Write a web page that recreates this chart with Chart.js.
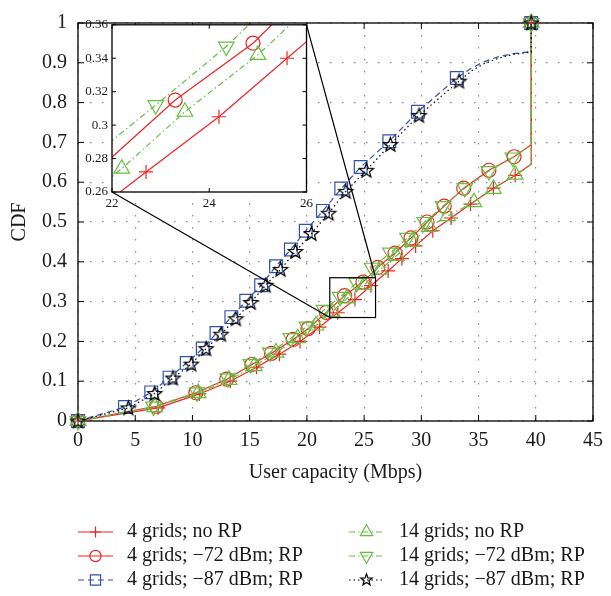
<!DOCTYPE html>
<html>
<head>
<meta charset="utf-8">
<script src="https://cdn.jsdelivr.net/npm/chart.js@4.4.1/dist/chart.umd.min.js"></script>
<style>
  html, body { margin: 0; padding: 0; background: #fff; }
  #wrap { position: relative; width: 611px; height: 596px; }
  #main { position: absolute; left: 0; top: 0; }
  #inset { position: absolute; left: 72px; top: 13px; }
</style>
</head>
<body>
<div id="wrap">
  <canvas id="main" width="611" height="596"></canvas>
  <canvas id="inset" width="245" height="200"></canvas>
</div>
<script>
// axis ticks
const xTicks = [0, 5, 10, 15, 20, 25, 30, 35, 40, 45];
const xTickLabels = ['0', '5', '10', '15', '20', '25', '30', '35', '40', '45'];
const yTicks = [0, 0.1, 0.2, 0.3, 0.4, 0.5, 0.6, 0.7, 0.8, 0.9, 1];
const yTickLabels = ['0', '0.1', '0.2', '0.3', '0.4', '0.5', '0.6', '0.7', '0.8', '0.9', '1'];
const insetXTicks = [22, 24, 26];
const insetXTickLabels = ['22', '24', '26'];
const insetYTicks = [0.26, 0.28, 0.30, 0.32, 0.34, 0.36];
const insetYTickLabels = ['0.26', '0.28', '0.3', '0.32', '0.34', '0.36'];

// zoom window of the inset (data units)
const zoomX = [22, 26];
const zoomY = [0.26, 0.36];

// 4 grids; no RP  (marked points, then the point before the jump)
const plusX = [0, 7.0, 10.6, 13.3, 15.6, 17.6, 19.4, 21.1, 22.7, 24.2, 25.6, 27.1, 28.3, 29.5, 31.0, 32.6, 34.3, 36.3, 38.2, 39.6];
const plusY = [0, 0.033, 0.068, 0.100, 0.135, 0.168, 0.200, 0.236, 0.272, 0.305, 0.340, 0.377, 0.408, 0.440, 0.478, 0.510, 0.545, 0.585, 0.617, 1];
const plusTailX = [39.6];
const plusTailY = [0.645];

// 4 grids; -72 dBm; RP
const circX = [0, 6.85, 10.3, 13.0, 15.2, 16.9, 18.8, 20.1, 21.7, 23.3, 24.9, 26.2, 27.7, 29.1, 30.5, 32.0, 33.7, 35.9, 38.1, 39.6];
const circY = [0, 0.037, 0.071, 0.105, 0.142, 0.170, 0.205, 0.232, 0.273, 0.315, 0.349, 0.386, 0.422, 0.460, 0.500, 0.540, 0.585, 0.630, 0.664, 1];
const circTailX = [39.6];
const circTailY = [0.694];

// 4 grids; -87 dBm; RP
const sqX = [0, 4.1, 6.4, 8.0, 9.5, 10.9, 12.1, 13.4, 14.7, 16.0, 17.3, 18.6, 19.9, 21.4, 23.0, 24.7, 27.2, 29.7, 33.1, 39.6];
const sqY = [0, 0.035, 0.072, 0.109, 0.146, 0.182, 0.221, 0.261, 0.302, 0.341, 0.389, 0.431, 0.478, 0.528, 0.584, 0.638, 0.703, 0.777, 0.862, 1];
const sqTailX = [34.3, 35.4, 36.7, 38.0, 39.6];
const sqTailY = [0.885, 0.902, 0.915, 0.923, 0.928];

// 14 grids; no RP
const upX = [0, 6.7, 10.5, 13.2, 15.4, 17.3, 19.2, 20.8, 22.2, 23.5, 25.0, 26.4, 27.8, 29.2, 30.7, 32.3, 34.6, 36.3, 38.2, 39.6];
const upY = [0, 0.035, 0.070, 0.103, 0.138, 0.172, 0.208, 0.240, 0.274, 0.308, 0.342, 0.380, 0.415, 0.450, 0.488, 0.515, 0.550, 0.583, 0.619, 1];
const upTailX = [39.6];
const upTailY = [0.645];

// 14 grids; -72 dBm; RP
const dnX = [0, 6.6, 10.4, 13.1, 15.1, 16.8, 18.6, 20.0, 21.5, 22.9, 24.35, 25.7, 27.3, 28.8, 30.3, 31.9, 33.8, 35.9, 38.0, 39.6];
const dnY = [0, 0.036, 0.072, 0.107, 0.143, 0.172, 0.208, 0.237, 0.279, 0.312, 0.347, 0.385, 0.423, 0.460, 0.500, 0.540, 0.585, 0.628, 0.662, 1];
const dnTailX = [39.6];
const dnTailY = [0.694];

// 14 grids; -87 dBm; RP
const starX = [0, 4.4, 6.7, 8.3, 9.9, 11.2, 12.5, 13.8, 15.1, 16.4, 17.7, 19.0, 20.4, 21.9, 23.4, 25.2, 27.3, 29.8, 33.3, 39.6];
const starY = [0, 0.033, 0.069, 0.108, 0.143, 0.182, 0.218, 0.257, 0.298, 0.341, 0.381, 0.426, 0.471, 0.522, 0.577, 0.630, 0.695, 0.768, 0.854, 1];
const starTailX = [34.4, 35.5, 36.8, 38.0, 39.6];
const starTailY = [0.880, 0.898, 0.912, 0.921, 0.927];

const FONT = '"Liberation Serif", "DejaVu Serif", serif';
const TEXT = '#1a1a1a';
const RED = '#f02424';
const GREEN = '#66bf42';
const BLUE = '#3152aa';
const BLACK = '#000000';

Chart.defaults.font.family = FONT;
Chart.defaults.color = TEXT;

// marked points + unmarked tail, last marked point (the top of the jump) at the end
function buildPoints(mx, my, tx, ty) {
    const pts = mx.map((x, i) => ({ x: x, y: my[i], mark: true }));
    const top = pts.pop();
    tx.forEach((x, i) => pts.push({ x: x, y: ty[i], mark: false }));
    pts.push(top);
    return pts;
}

function starPath(ctx, cx, cy, R) {
    const r = R * 0.42;
    ctx.beginPath();
    for (let k = 0; k < 10; k++) {
        const rr = k % 2 ? r : R;
        const a = -Math.PI / 2 + k * Math.PI / 5;
        ctx.lineTo(cx + rr * Math.cos(a), cy + rr * Math.sin(a));
    }
    ctx.closePath();
}

function makeStar(R) {
    const s = Math.ceil(2 * R + 4);
    const c = document.createElement('canvas');
    c.width = s;
    c.height = s;
    const g = c.getContext('2d');
    starPath(g, s / 2, s / 2 + 0.5, R);
    g.strokeStyle = BLACK;
    g.lineWidth = 1.2;
    g.stroke();
    return c;
}

const starImg = makeStar(7.5);

const seriesDefs = [
    { label: '4 grids; no RP', color: RED, marker: 'cross', r: 7, dash: [], order: 5,
      pts: buildPoints(plusX, plusY, plusTailX, plusTailY) },
    { label: '4 grids; \u221272 dBm; RP', color: RED, marker: 'circle', r: 7, dash: [], order: 4,
      pts: buildPoints(circX, circY, circTailX, circTailY) },
    { label: '4 grids; \u221287 dBm; RP', color: BLUE, marker: 'rect', r: 9, dash: [6, 4], order: 3,
      pts: buildPoints(sqX, sqY, sqTailX, sqTailY) },
    { label: '14 grids; no RP', color: GREEN, marker: 'triangle', r: 9, dash: [6, 3, 1.5, 3], order: 2,
      pts: buildPoints(upX, upY, upTailX, upTailY) },
    { label: '14 grids; \u221272 dBm; RP', color: GREEN, marker: 'triangle', rot: 180, r: 9, dash: [6, 3, 1.5, 3], order: 1,
      pts: buildPoints(dnX, dnY, dnTailX, dnTailY) },
    { label: '14 grids; \u221287 dBm; RP', color: BLACK, marker: 'star', r: 7.5, dash: [1.5, 3], order: 0,
      pts: buildPoints(starX, starY, starTailX, starTailY) }
];

function makeDatasets() {
    return seriesDefs.map(s => ({
        label: s.label,
        data: s.pts,
        order: s.order,
        borderColor: s.color,
        borderWidth: 1.2,
        borderDash: s.dash,
        fill: false,
        tension: 0,
        pointStyle: s.marker === 'star' ? starImg : s.marker,
        pointRotation: s.rot || 0,
        pointRadius: ctx => (ctx.raw && ctx.raw.mark ? s.r : 0),
        pointHoverRadius: 0,
        pointBorderColor: s.color,
        pointBackgroundColor: 'rgba(0,0,0,0)',
        pointBorderWidth: 1.2
    }));
}

// marker drawing for the legend
function drawMarker(ctx, s, x, y, r) {
    ctx.save();
    ctx.setLineDash([]);
    ctx.strokeStyle = s.color;
    ctx.lineWidth = 1.2;
    ctx.beginPath();
    if (s.marker === 'cross') {
        ctx.moveTo(x - r, y); ctx.lineTo(x + r, y);
        ctx.moveTo(x, y - r); ctx.lineTo(x, y + r);
    } else if (s.marker === 'circle') {
        ctx.arc(x, y, r, 0, Math.PI * 2);
    } else if (s.marker === 'rect') {
        const h = r * Math.SQRT1_2;
        ctx.rect(x - h, y - h, 2 * h, 2 * h);
    } else if (s.marker === 'triangle') {
        let a = (s.rot || 0) * Math.PI / 180;
        for (let k = 0; k < 3; k++) {
            ctx.lineTo(x + Math.sin(a) * r, y - Math.cos(a) * r);
            a += Math.PI * 2 / 3;
        }
        ctx.closePath();
    } else if (s.marker === 'star') {
        starPath(ctx, x, y, r);
    }
    ctx.stroke();
    ctx.restore();
}

function drawInwardTicks(ctx, chart, xs, ys, len) {
    const a = chart.chartArea;
    const sx = chart.scales.x, sy = chart.scales.y;
    ctx.beginPath();
    xs.forEach(v => {
        const p = sx.getPixelForValue(v);
        ctx.moveTo(p, a.bottom); ctx.lineTo(p, a.bottom - len);
        ctx.moveTo(p, a.top); ctx.lineTo(p, a.top + len);
    });
    ys.forEach(v => {
        const p = sy.getPixelForValue(v);
        ctx.moveTo(a.left, p); ctx.lineTo(a.left + len, p);
        ctx.moveTo(a.right, p); ctx.lineTo(a.right - len, p);
    });
    ctx.stroke();
}

// ---------- inset ----------
const insetCanvas = document.getElementById('inset');
const insetChart = new Chart(insetCanvas.getContext('2d'), {
    type: 'line',
    data: { datasets: makeDatasets() },
    options: {
        responsive: false,
        animation: false,
        events: [],
        layout: { padding: { left: 0, right: 10, top: 10, bottom: 0 } },
        plugins: { legend: { display: false }, tooltip: { enabled: false } },
        scales: {
            x: {
                type: 'linear', min: zoomX[0], max: zoomX[1],
                afterBuildTicks: s => { s.ticks = insetXTicks.map(v => ({ value: v })); },
                afterFit: s => { s.height = 21; },
                grid: { display: false, drawTicks: false },
                border: { display: false },
                ticks: { padding: 4, font: { size: 13 }, color: TEXT, maxRotation: 0,
                         callback: (v, i) => insetXTickLabels[i] }
            },
            y: {
                type: 'linear', min: zoomY[0], max: zoomY[1],
                afterBuildTicks: s => { s.ticks = insetYTicks.map(v => ({ value: v })); },
                afterFit: s => { s.width = 40; },
                grid: { display: false, drawTicks: false },
                border: { display: false },
                ticks: { padding: 4, font: { size: 13 }, color: TEXT,
                         callback: (v, i) => insetYTickLabels[i] }
            }
        }
    },
    plugins: [{
        id: 'insetFrame',
        beforeDraw(chart) {
            const a = chart.chartArea, ctx = chart.ctx;
            ctx.save();
            ctx.fillStyle = '#fff';
            ctx.fillRect(a.left, a.top, a.right - a.left, a.bottom - a.top);
            ctx.restore();
        },
        afterDraw(chart) {
            const a = chart.chartArea, ctx = chart.ctx;
            ctx.save();
            ctx.strokeStyle = '#000';
            ctx.lineWidth = 1.3;
            ctx.strokeRect(a.left, a.top, a.right - a.left, a.bottom - a.top);
            ctx.lineWidth = 1;
            drawInwardTicks(ctx, chart, insetXTicks, insetYTicks, 4);
            ctx.restore();
        }
    }]
});

// ---------- main chart ----------
const legendCols = [
    { x0: 78, x1: 113, tx: 127 },
    { x0: 349, x1: 384, tx: 399 }
];
const legendRowsY = [532, 556, 580];

const mainChart = new Chart(document.getElementById('main').getContext('2d'), {
    type: 'line',
    data: { datasets: makeDatasets() },
    options: {
        responsive: false,
        animation: false,
        events: [],
        clip: false,
        layout: { padding: { left: 0, right: 14, top: 12, bottom: 111 } },
        plugins: { legend: { display: false }, tooltip: { enabled: false } },
        scales: {
            x: {
                type: 'linear', min: 0, max: 45,
                afterBuildTicks: s => { s.ticks = xTicks.map(v => ({ value: v })); },
                afterFit: s => { s.height = 64; },
                grid: { color: '#8a8a8a', lineWidth: 1.2, drawTicks: false },
                border: { display: false, dash: [1.5, 10.5] },
                ticks: { padding: 8, font: { size: 20 }, color: TEXT, maxRotation: 0, autoSkip: false,
                         callback: (v, i) => xTickLabels[i] },
                title: { display: true, text: 'User capacity (Mbps)', font: { size: 20 }, color: TEXT,
                         padding: { top: 0, bottom: 0 } }
            },
            y: {
                type: 'linear', min: 0, max: 1,
                afterBuildTicks: s => { s.ticks = yTicks.map(v => ({ value: v })); },
                afterFit: s => { s.width = 78; },
                grid: { color: '#8a8a8a', lineWidth: 1.2, drawTicks: false },
                border: { display: false, dash: [1.5, 10.5] },
                ticks: { padding: 11, font: { size: 20 }, color: TEXT, autoSkip: false,
                         callback: (v, i) => yTickLabels[i] },
                title: { display: true, text: 'CDF', font: { size: 20 }, color: TEXT,
                         padding: { top: 8, bottom: 0 } }
            }
        }
    },
    plugins: [{
        id: 'mainDecor',
        beforeDatasetsDraw(chart) {
            const a = chart.chartArea, ctx = chart.ctx;
            ctx.save();
            ctx.strokeStyle = '#000';
            ctx.lineWidth = 1.3;
            ctx.strokeRect(a.left, a.top, a.right - a.left, a.bottom - a.top);
            ctx.lineWidth = 1;
            drawInwardTicks(ctx, chart, xTicks, yTicks, 6);
            ctx.restore();
        },
        afterDatasetsDraw(chart) {
            const ctx = chart.ctx;
            const sx = chart.scales.x, sy = chart.scales.y;
            const bx0 = sx.getPixelForValue(zoomX[0]), bx1 = sx.getPixelForValue(zoomX[1]);
            const by0 = sy.getPixelForValue(zoomY[0]), by1 = sy.getPixelForValue(zoomY[1]);
            const ia = insetChart.chartArea;
            const ox = insetCanvas.offsetLeft, oy = insetCanvas.offsetTop;
            ctx.save();
            ctx.strokeStyle = '#000';
            ctx.lineWidth = 1.2;
            ctx.strokeRect(bx0, by1, bx1 - bx0, by0 - by1);
            ctx.beginPath();
            ctx.moveTo(ox + ia.left, oy + ia.bottom); ctx.lineTo(bx0, by0);
            ctx.moveTo(ox + ia.right, oy + ia.top); ctx.lineTo(bx1, by1);
            ctx.stroke();
            ctx.restore();
        },
        afterDraw(chart) {
            const ctx = chart.ctx;
            ctx.save();
            ctx.font = '20px ' + FONT;
            ctx.textBaseline = 'middle';
            ctx.textAlign = 'left';
            seriesDefs.forEach((s, i) => {
                const col = legendCols[Math.floor(i / 3)];
                const y = legendRowsY[i % 3];
                ctx.save();
                ctx.strokeStyle = s.color;
                ctx.lineWidth = 1.2;
                ctx.setLineDash(s.dash);
                ctx.beginPath();
                ctx.moveTo(col.x0, y); ctx.lineTo(col.x1, y);
                ctx.stroke();
                ctx.restore();
                drawMarker(ctx, s, (col.x0 + col.x1) / 2, y, s.r * 0.8);
                ctx.fillStyle = TEXT;
                ctx.fillText(s.label, col.tx, y);
            });
            ctx.restore();
        }
    }]
});
</script>
</body>
</html>
